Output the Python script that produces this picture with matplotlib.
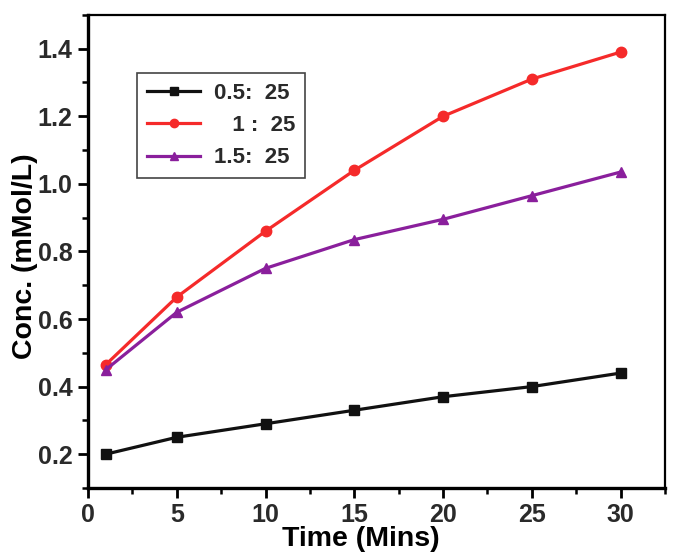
import matplotlib.pyplot as plt
from matplotlib.ticker import MultipleLocator

plt.rcParams["font.family"] = ["Liberation Sans", "DejaVu Sans"]
plt.rcParams["font.weight"] = "bold"

time = [1, 5, 10, 15, 20, 25, 30]
conc_05 = [0.20, 0.25, 0.29, 0.33, 0.37, 0.40, 0.44]
conc_1 = [0.465, 0.665, 0.86, 1.04, 1.20, 1.31, 1.39]
conc_15 = [0.45, 0.62, 0.75, 0.835, 0.895, 0.965, 1.035]

labels = ["0.5:  25", "   1 :  25", "1.5:  25"]
yticks = [0.2, 0.4, 0.6, 0.8, 1.0, 1.2, 1.4]

fig = plt.figure(figsize=(6.74, 5.52), dpi=100)
ax = fig.add_axes([0.1306, 0.116, 0.856, 0.857])

ax.plot(time, conc_05, color="#111111", marker="s", markersize=7, linewidth=2.3, label=labels[0])
ax.plot(time, conc_1, color="#f52a2a", marker="o", markersize=7.5, linewidth=2.3, label=labels[1])
ax.plot(time, conc_15, color="#8a1f9c", marker="^", markersize=7.5, linewidth=2.3, label=labels[2])

ax.set_xlim(0, 32.5)
ax.set_ylim(0.1, 1.5)
ax.xaxis.set_major_locator(MultipleLocator(5))
ax.xaxis.set_minor_locator(MultipleLocator(2.5))
ax.yaxis.set_minor_locator(MultipleLocator(0.1))
ax.set_yticks(yticks)
ax.set_yticklabels([f"{v:.1f}" for v in yticks])

ax.tick_params(which="major", direction="out", length=7, width=2, labelsize=18,
               labelcolor="#2a2a2a", pad=4)
ax.tick_params(which="minor", direction="out", length=4, width=1.8)
for side in ["left", "bottom"]:
    ax.spines[side].set_linewidth(2.4)
for side in ["top", "right"]:
    ax.spines[side].set_linewidth(1.6)

ax.set_xlabel("Time (Mins)", fontsize=20.5, fontweight="bold")
ax.set_ylabel("Conc. (mMol/L)", fontsize=20.5, fontweight="bold")
ax.xaxis.set_label_coords(0.473, -0.08)
ax.yaxis.set_label_coords(-0.087, 0.49)

leg = ax.legend(loc="upper left", bbox_to_anchor=(0.085, 0.877), fontsize=16, fancybox=False,
                edgecolor="#444444", framealpha=1, handlelength=2.4, handletextpad=0.6,
                borderpad=0.45, labelspacing=0.5, markerscale=0.8, borderaxespad=0)
leg.get_frame().set_linewidth(1.2)
for t in leg.get_texts():
    t.set_color("#2a2a2a")

fig.savefig("out.png", dpi=100)
